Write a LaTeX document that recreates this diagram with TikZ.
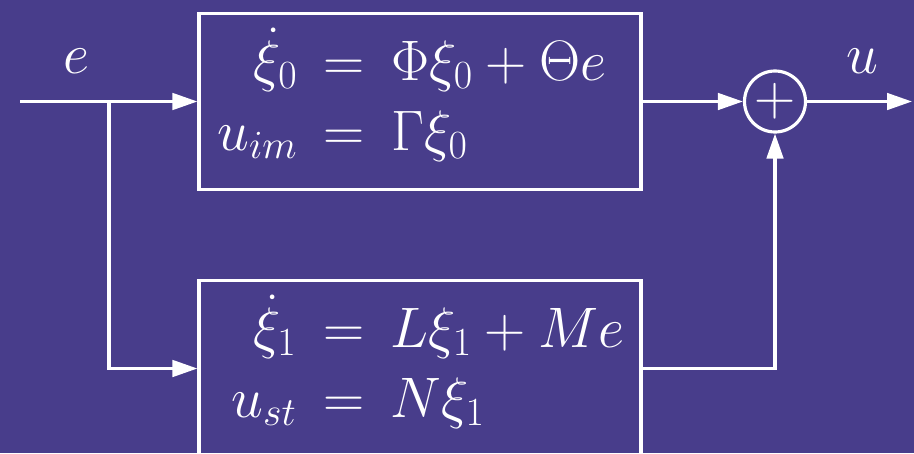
\RequirePackage{fix-cm}
\documentclass[tikz,border=0pt]{standalone}
\usetikzlibrary{arrows.meta}
\definecolor{slatebg}{RGB}{72,61,139}
\setlength{\arraycolsep}{7.5pt}

\begin{document}
\begin{tikzpicture}[node distance=7.1cm, color=white, line width=1.8pt,
    font=\fontsize{32.5}{39.8}\selectfont,
    >={Triangle[length=0.5cm, width=0.33cm]},
    block/.style={draw, rectangle, minimum width=8.84cm, minimum height=3.53cm},
    junction/.style={draw, circle, minimum size=1.22cm, inner sep=0pt}]
  \fill[slatebg, use as bounding box] (0,0) rectangle (18.28,-9.06);
  \clip (0,0) rectangle (18.28,-9.06);

  \node[block] (upper) at (8.4,-2.03) {};
  \node[junction, right of=upper] (sum) {$+$};
  \node[block, below of=upper, node distance=5.34cm] (lower) {};

  \node (upperEq) at ([xshift=-0.16cm, yshift=0.04cm]upper.center)
    {$\begin{array}{rcl}
      \dot{\xi}_0 & = & \Phi\xi_0+\Theta e\\
      u_{im} & = & \Gamma\xi_0
    \end{array}$};
  \node (lowerEq) at ([xshift=0.16cm, yshift=0.04cm]lower.center)
    {$\begin{array}{rcl}
      \dot{\xi}_1 & = & L\xi_1+Me\\
      u_{st} & = & N\xi_1
    \end{array}$};

  \coordinate (in) at ([xshift=-3.54cm]upper.west);
  \coordinate (split) at ([xshift=-1.77cm]upper.west);
  \coordinate (out) at ([xshift=2.74cm]sum.center);

  \draw[->] (in) -- node[pos=0.316, anchor=base, yshift=0.57cm, name=eLabel] {$e$} (upper.west);
  \draw[->] (split) |- (lower.west);
  \draw[->] (upper.east) -- (sum.west);
  \draw[->] (sum.east) -- node[pos=0.53, anchor=base, yshift=0.56cm, name=uLabel] {$u$} (out);
  \draw[->] (lower.east) -| (sum.south);
\end{tikzpicture}
\end{document}
